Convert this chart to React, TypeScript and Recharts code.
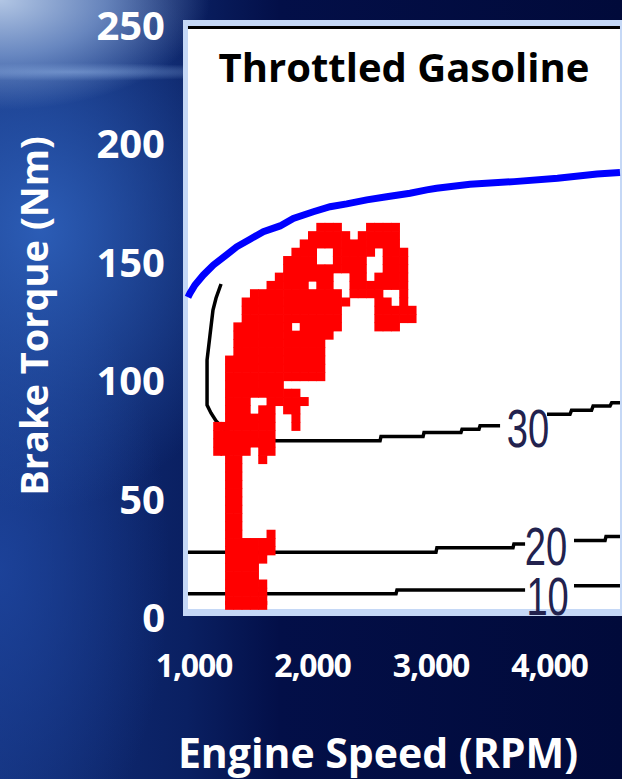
import {
  ComposedChart, Line, Scatter, XAxis, YAxis, ReferenceArea, ReferenceLine,
} from 'recharts'

const rpmTicks = [1000, 2000, 3000, 4000]
const torqueTicks = [0, 50, 100, 150, 200, 250]

// full-load torque curve
const fullLoad: [number, number][] = [
  [949, 134.5], [966, 136.2], [1008, 139.7], [1079, 143.9], [1163, 148.1], [1262, 151.9],
  [1360, 155.8], [1473, 159], [1585, 162.2], [1726, 164.6], [1838, 167.8], [2007, 170.6],
  [2148, 172.7], [2289, 173.9], [2458, 175.6], [2626, 176.9], [2823, 178.4], [2964, 179.8],
  [3047, 180.5], [3329, 182.2], [3701, 183.3], [4068, 184.7], [4401, 186.5], [4595, 187.1],
]

// efficiency contours (null = gap for the level label)
const contour30: [number, number | null][] = [
  [1228, 140.1], [1186, 134.2], [1160, 129.1], [1135, 118.6], [1110, 108], [1110, 89],
  [1143, 85.7], [1186, 82.3], [1245, 79.3], [1346, 75.5], [1667, 73.9], [2570, 73.9],
  [2578, 75.7], [2933, 75.7], [2941, 77.4], [3253, 77.4], [3262, 78.8], [3405, 78.8],
  [3414, 80.3], [3583, 80.3], [3600, null], [3979, 85.1], [4173, 85.1], [4186, 86.8],
  [4355, 86.8], [4368, 88.6], [4511, 88.6], [4525, 90], [4595, 90],
]
const contour20: [number, number | null][] = [
  [949, 26.9], [3042, 26.9], [3050, 28.8], [3692, 28.8], [3700, 30.4], [3794, 30.4],
  [3900, null], [4207, 31.9], [4469, 31.9], [4477, 33.5], [4595, 33.5],
]
const contour10: [number, number | null][] = [
  [949, 9.4], [2705, 9.4], [2713, 11], [3794, 11], [3900, null], [4207, 12.8], [4595, 12.8],
]

const contourLevels = ['30', '20', '10']
const contourLabelRpm = [3819, 3971, 3984]
const contourLabelTq = [79.3, 29.5, 8.4]

// drive-cycle operating points, one row per torque level
const tripRows: [number, number[]][] = [
  [164, [2070, 2140, 2210, 2490, 2560, 2630, 2700]],
  [160.5, [2000, 2070, 2140, 2210, 2280, 2420, 2490, 2560, 2630, 2700]],
  [157, [1930, 2000, 2070, 2140, 2210, 2280, 2350, 2420, 2490, 2560, 2630, 2700]],
  [153.5, [1860, 1930, 2000, 2210, 2280, 2350, 2420, 2490, 2630, 2700, 2770]],
  [150, [1790, 1860, 1930, 2000, 2210, 2280, 2350, 2420, 2630, 2700, 2770]],
  [146.5, [1790, 1860, 1930, 2000, 2070, 2140, 2210, 2280, 2350, 2420, 2630, 2700, 2770]],
  [143, [1720, 1790, 1860, 1930, 2000, 2070, 2140, 2350, 2420, 2560, 2630, 2700, 2770]],
  [139.5, [1650, 1720, 1790, 1860, 1930, 2070, 2140, 2350, 2420, 2490, 2560, 2630, 2700, 2770]],
  [136, [1510, 1580, 1650, 1720, 1790, 1860, 1930, 2000, 2070, 2140, 2210, 2350, 2420, 2490, 2560, 2770]],
  [132.5, [1440, 1510, 1580, 1650, 1720, 1790, 1860, 1930, 2000, 2070, 2140, 2210, 2280, 2560, 2630, 2770]],
  [129, [1440, 1510, 1580, 1650, 1720, 1790, 1860, 1930, 2000, 2070, 2140, 2210, 2560, 2630, 2700, 2770, 2840]],
  [125.5, [1440, 1510, 1580, 1650, 1720, 1790, 1860, 1930, 2000, 2070, 2140, 2210, 2560, 2630, 2700, 2770, 2840]],
  [122, [1370, 1440, 1510, 1580, 1650, 1720, 1790, 1930, 2000, 2070, 2140, 2210, 2560, 2630, 2700]],
  [118.5, [1370, 1440, 1510, 1580, 1650, 1720, 1790, 1860, 1930, 2000, 2070, 2140]],
  [115, [1370, 1440, 1510, 1580, 1650, 1720, 1790, 1860, 1930, 2000, 2070]],
  [111.5, [1370, 1440, 1510, 1580, 1650, 1720, 1790, 1860, 1930, 2000, 2070]],
  [108, [1300, 1370, 1440, 1510, 1580, 1650, 1720, 1790, 1860, 1930, 2000, 2070]],
  [104.5, [1300, 1370, 1440, 1510, 1580, 1650, 1720, 1790, 1860, 1930, 2000, 2070]],
  [101, [1300, 1370, 1440, 1510, 1580, 1650, 1720, 1790, 1860, 1930, 2000, 2070]],
  [97.5, [1300, 1370, 1440, 1510, 1580, 1650, 1720]],
  [94, [1300, 1370, 1440, 1510, 1580, 1650, 1720, 1790, 1860]],
  [90.5, [1300, 1370, 1440, 1650, 1720, 1790, 1860, 1930]],
  [87, [1300, 1370, 1440, 1580, 1650, 1790, 1860]],
  [83.5, [1300, 1370, 1440, 1510, 1580, 1650, 1860]],
  [80, [1200, 1260, 1300, 1370, 1440, 1510, 1580, 1650, 1860]],
  [76.5, [1200, 1260, 1300, 1370, 1440, 1510, 1580, 1650]],
  [73, [1200, 1260, 1300, 1370, 1440, 1510, 1580, 1650]],
  [69.5, [1200, 1260, 1300, 1370, 1440, 1580, 1650]],
  [66, [1300, 1370, 1580]],
  [62.5, [1300, 1370]],
  [59, [1300, 1370]],
  [55.5, [1300, 1370]],
  [52, [1300, 1370]],
  [48.5, [1300, 1370]],
  [45, [1300, 1370]],
  [41.5, [1300, 1370]],
  [38, [1300, 1370]],
  [34.5, [1300, 1370, 1650]],
  [31, [1300, 1370, 1440, 1510, 1580, 1650]],
  [27.5, [1300, 1370, 1440, 1510, 1580, 1650]],
  [24, [1300, 1370, 1440, 1510, 1580]],
  [20.5, [1300, 1370, 1440, 1510]],
  [17, [1300, 1370, 1440, 1510]],
  [13.5, [1300, 1370, 1440, 1510, 1580]],
  [10, [1300, 1370, 1440, 1510, 1580]],
  [6.5, [1300, 1370, 1440, 1510, 1580]],
  [4.5, [1300, 1370, 1440, 1510, 1580]],
]

const FONT = "'Open Sans', sans-serif"
const FRAME = '#c5d8f6'
const xDomain = [907, 4612]
const yDomain = [0, 251.5]
const plotX = [949, 4595]
const plotY = [2.95, 248.9]

const toPts = (pts: [number, number | null][]) => pts.map(([rpm, tq]) => ({ rpm, tq }))

const tripData = tripRows.flatMap(([tq, rpms]) => rpms.map((rpm) => ({ rpm, tq })))
const labelData = contourLevels.map((text, i) => ({ rpm: contourLabelRpm[i], tq: contourLabelTq[i], text }))

function RedSquare(props: any) {
  const { cx, cy } = props
  return <rect x={cx - 4.5} y={cy - 4.5} width={9} height={9} fill="#ff0000" />
}

function LevelLabel(props: any) {
  const { cx, cy, payload } = props
  return (
    <g transform={`translate(${cx},${cy}) scale(0.72,1)`}>
      <text x={0} y={0} dy="0.36em" textAnchor="middle" fontSize={53}
        fontFamily="'Liberation Sans', Arial, sans-serif" fill="#22224e">
        {payload.text}
      </text>
    </g>
  )
}

const bg = [
  'radial-gradient(ellipse 210px 110px at 0px 0px, rgba(178,198,228,1) 0%, rgba(130,160,210,0.75) 50%, rgba(100,140,200,0) 100%)',
  'radial-gradient(ellipse 190px 9px at 70px 72px, rgba(150,185,235,0.55), rgba(150,185,235,0))',
  'radial-gradient(ellipse 230px 280px at 40px 230px, rgba(45,95,185,0.95), rgba(45,95,185,0) 100%)',
  'radial-gradient(ellipse 170px 320px at 0px 570px, rgba(30,70,160,0.8), rgba(30,70,160,0))',
  'linear-gradient(to right, #13307a 0%, #0a2062 30%, #030f48 45%, #010a3a 100%)',
].join(',')

export default function App() {
  return (
    <div style={{ position: 'fixed', left: 0, top: 0, width: 622, height: 779, overflow: 'hidden', background: bg, fontFamily: FONT }}>
      <ComposedChart width={622} height={779} margin={{ top: 20, right: 0, bottom: 0, left: 0 }}>
        <XAxis
          type="number" dataKey="rpm" domain={xDomain} allowDataOverflow ticks={rpmTicks} interval={0}
          height={163} axisLine={false} tickLine={false} tickSize={0} tickMargin={38}
          tickFormatter={(v: number) => v.toLocaleString('en-US')}
          tick={{ fill: '#fff', fontSize: 32, fontWeight: 700, fontFamily: FONT, letterSpacing: -1.2 }}
          label={{
            content: ({ viewBox }: any) => (
              <text x={viewBox.x + 195} y={viewBox.y + 152} textAnchor="middle" fill="#fff"
                fontSize={41} fontWeight={700} fontFamily={FONT}>
                Engine Speed (RPM)
              </text>
            ),
          }}
        />
        <YAxis
          type="number" dataKey="tq" domain={yDomain} allowDataOverflow ticks={torqueTicks} interval={0}
          width={183} axisLine={false} tickLine={false} tickSize={0} tickMargin={18}
          tick={{ fill: '#fff', fontSize: 40, fontWeight: 700, fontFamily: FONT, dy: 2 }}
          label={{
            content: ({ viewBox }: any) => {
              const x = viewBox.x + 33
              const y = viewBox.y + viewBox.height / 2 - 2
              return (
                <text x={x} y={y} transform={`rotate(-90, ${x}, ${y})`} textAnchor="middle"
                  dominantBaseline="central" fill="#fff" fontSize={38} fontWeight={700} fontFamily={FONT}>
                  Brake Torque (Nm)
                </text>
              )
            },
          }}
        />
        <ReferenceArea x1={xDomain[0]} x2={xDomain[1]} y1={yDomain[0]} y2={yDomain[1]} fill={FRAME} fillOpacity={1} stroke="none" />
        <ReferenceArea
          x1={plotX[0]} x2={plotX[1]} y1={plotY[0]} y2={plotY[1]} fill="#fff" fillOpacity={1} stroke="none"
          label={{ value: 'Throttled Gasoline', position: 'insideTop', offset: 27, fill: '#000', fontSize: 40, fontWeight: 700, fontFamily: FONT }}
        />
        <ReferenceLine segment={[{ x: plotX[0], y: 248.3 }, { x: plotX[1], y: 248.3 }]} stroke="#000" strokeWidth={3} />
        <Line data={toPts(contour30)} dataKey="tq" stroke="#000" strokeWidth={3.5} dot={false} activeDot={false} isAnimationActive={false} />
        <Line data={toPts(contour20)} dataKey="tq" stroke="#000" strokeWidth={3.5} dot={false} activeDot={false} isAnimationActive={false} />
        <Line data={toPts(contour10)} dataKey="tq" stroke="#000" strokeWidth={3.5} dot={false} activeDot={false} isAnimationActive={false} />
        <Line data={toPts(fullLoad)} dataKey="tq" stroke="#0000ff" strokeWidth={7} dot={false} activeDot={false} isAnimationActive={false} />
        <Scatter data={tripData} shape={RedSquare} isAnimationActive={false} />
        <Scatter data={labelData} shape={LevelLabel} isAnimationActive={false} />
      </ComposedChart>
    </div>
  )
}
